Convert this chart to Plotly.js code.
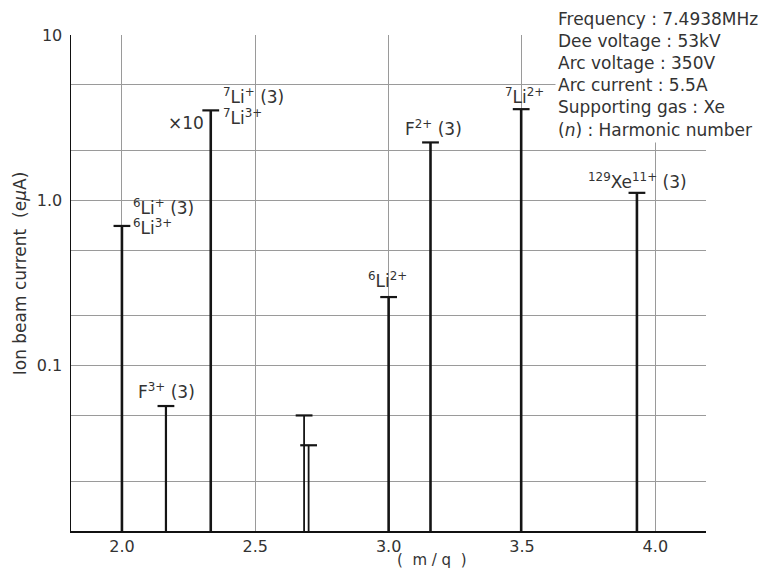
<!DOCTYPE html>
<html>
<head>
<meta charset="utf-8">
<script src="https://cdn.plot.ly/plotly-3.0.1.min.js"></script>
<style>html,body{margin:0;padding:0;background:#fff;}#chart{width:778px;height:568px;}</style>
</head>
<body>
<div id="chart"></div>
<script>
// ---- data ----
const massToCharge = [2.0, 2.165, 2.333, 2.683, 2.700, 3.0, 3.157, 3.497, 3.931];
const beamCurrent  = [0.70, 0.057, 3.5, 0.050, 0.033, 0.26, 2.24, 3.56, 1.11];
const stemWidths   = [2.6, 2.2, 2.6, 1.8, 1.8, 2.6, 2.6, 2.6, 2.6];
const xTickVals = [2.0, 2.5, 3.0, 3.5, 4.0];
const xTickText = ['2.0', '2.5', '3.0', '3.5', '4.0'];
const yTickVals = [0.02, 0.05, 0.1, 0.2, 0.5, 1, 2, 5, 10];
const yTickText = ['', '', '0.1', '', '', '1.0', '', '', '10'];
const conditionLines = [
  'Frequency : 7.4938MHz',
  'Dee voltage : 53kV',
  'Arc voltage : 350V',
  'Arc current : 5.5A',
  'Supporting gas : Xe',
  '(<i>n</i>) : Harmonic number'
];
// labels: [bar index, text, xanchor, xshift, yshift]
const peakLabels = [
  [0, '<sup>6</sup>Li<sup>+</sup> (3)', 'left', 9, 19],
  [0, '<sup>6</sup>Li<sup>3+</sup>', 'left', 9, -1],
  [1, 'F<sup>3+</sup> (3)', 'center', 1, 15],
  [2, '×10', 'right', -5, -13],
  [2, '<sup>7</sup>Li<sup>+</sup> (3)', 'left', 10, 14],
  [2, '<sup>7</sup>Li<sup>3+</sup>', 'left', 10, -7],
  [5, '<sup>6</sup>Li<sup>2+</sup>', 'center', -1, 17],
  [6, 'F<sup>2+</sup> (3)', 'center', 3, 14],
  [7, '<sup>7</sup>Li<sup>2+</sup>', 'center', 3, 13],
  [8, '<sup>129</sup>Xe<sup>11+</sup> (3)', 'center', 1, 12]
];

const FONT = 'DejaVu Sans, sans-serif';
const TXT = '#333';
const INK = '#151515';

const traces = [];
massToCharge.forEach((m, i) => {
  traces.push({
    type: 'scatter', mode: 'lines',
    x: [m, m], y: [0.005, beamCurrent[i]],
    line: {color: INK, width: stemWidths[i]},
    hoverinfo: 'skip', showlegend: false, cliponaxis: true
  });
});
traces.push({
  type: 'scatter', mode: 'markers',
  x: massToCharge, y: beamCurrent,
  marker: {symbol: 'line-ew', size: 12, line: {color: INK, width: 2.2}},
  showlegend: false, cliponaxis: false
});

const annotations = peakLabels.map(([i, text, xa, xs, ys]) => ({
  x: massToCharge[i], y: Math.log10(beamCurrent[i]), xref: 'x', yref: 'y',
  text: text, showarrow: false, xanchor: xa, yanchor: 'middle',
  xshift: xs, yshift: ys, font: {family: FONT, size: 17, color: TXT}
}));
annotations.push({
  xref: 'paper', yref: 'paper', x: 0.762, y: 1.058, xanchor: 'left', yanchor: 'top',
  align: 'left', showarrow: false, bgcolor: '#ffffff', borderpad: 2,
  text: conditionLines.join('<br>'),
  font: {family: FONT, size: 17, color: TXT}
});
annotations.push({
  xref: 'paper', yref: 'paper', x: -0.080, y: 0.52, xanchor: 'center', yanchor: 'middle',
  textangle: -90, showarrow: false, text: 'Ion beam current  (e<i>μ</i>A)',
  font: {family: FONT, size: 17, color: TXT}
});
annotations.push({
  xref: 'paper', yref: 'paper', x: 0.568, y: -0.0585, xanchor: 'center', yanchor: 'middle',
  showarrow: false, text: '(  m / q  )',
  font: {family: FONT, size: 15, color: TXT}
});

const layout = {
  width: 778, height: 568,
  margin: {l: 71, r: 72, t: 35, b: 37},
  paper_bgcolor: '#fff', plot_bgcolor: '#fff',
  showlegend: false,
  xaxis: {
    range: [1.809, 4.19], tickvals: xTickVals, ticktext: xTickText,
    showgrid: true, gridcolor: '#9a9a9a', gridwidth: 1, zeroline: false,
    showline: true, linecolor: '#111', linewidth: 1.5, ticks: '',
    ticklabelstandoff: 0,
    tickfont: {family: FONT, size: 16, color: TXT}
  },
  yaxis: {
    type: 'log', range: [-2, 1], tickvals: yTickVals, ticktext: yTickText,
    showgrid: true, gridcolor: '#9a9a9a', gridwidth: 1, zeroline: false,
    showline: true, linecolor: '#111', linewidth: 1.5,
    ticks: '', ticklabelstandoff: 4,
    tickfont: {family: FONT, size: 16, color: TXT}
  },
  annotations: annotations
};

Plotly.newPlot('chart', traces, layout, {staticPlot: true, displayModeBar: false});
</script>
</body>
</html>
